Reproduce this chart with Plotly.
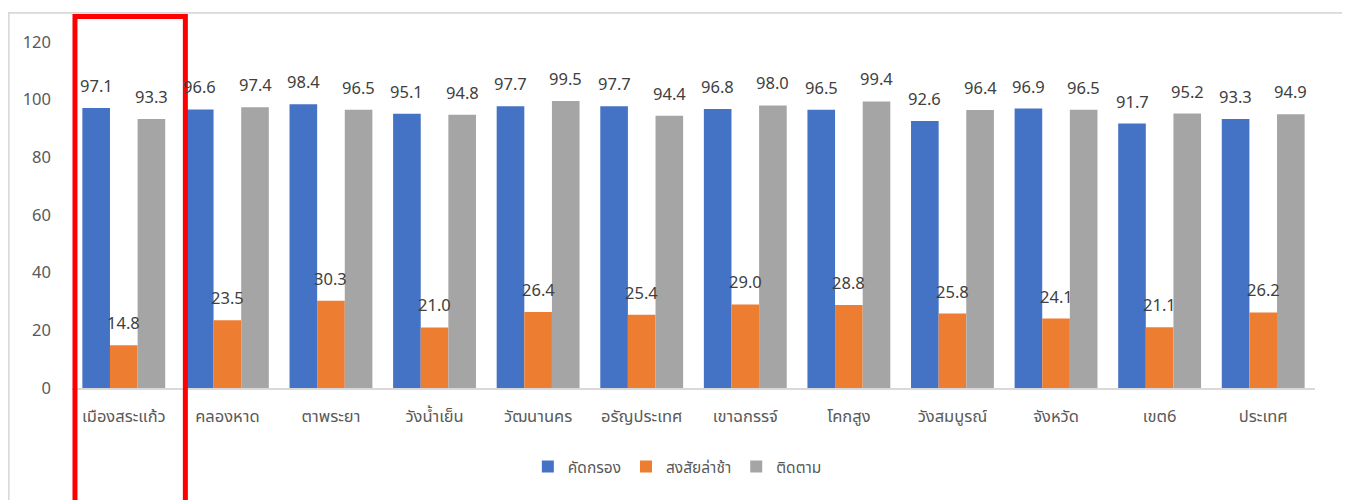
import plotly.graph_objects as go

categories = ["เมืองสระแก้ว", "คลองหาด", "ตาพระยา", "วังน้ำเย็น", "วัฒนานคร", "อรัญประเทศ",
              "เขาฉกรรจ์", "โคกสูง", "วังสมบูรณ์", "จังหวัด", "เขต6", "ประเทศ"]
screen = [97.1, 96.6, 98.4, 95.1, 97.7, 97.7, 96.8, 96.5, 92.6, 96.9, 91.7, 93.3]
suspect = [14.8, 23.5, 30.3, 21.0, 26.4, 25.4, 29.0, 28.8, 25.8, 24.1, 21.1, 26.2]
follow = [93.3, 97.4, 96.5, 94.8, 99.5, 94.4, 98.0, 99.4, 96.4, 96.5, 95.2, 94.9]
series_names = ["คัดกรอง", "สงสัยล่าช้า", "ติดตาม"]
colors = ["#4472C4", "#ED7D31", "#A5A5A5"]
y_ticks = [0, 20, 40, 60, 80, 100, 120]

FONT = "Tahoma, 'Noto Sans Thai', 'Leelawadee UI', 'DejaVu Sans', sans-serif"
W, H = 1350, 500
ML, MR, MT, MB = 64, 43, 33.5, 120
BARGAP = 0.2

fig = go.Figure()
all_vals = [screen, suspect, follow]
for name, vals, col in zip(series_names, all_vals, colors):
    fig.add_trace(go.Bar(
        x=categories, y=vals, name=name, marker_color=col, marker_line_width=0,
    ))

# data labels (Excel-style, raised above the bar end)
cat_px = (W - ML - MR) / len(categories)
bar_px = cat_px * (1 - BARGAP) / len(all_vals)
for i, vals in enumerate(all_vals):
    off = (i - (len(all_vals) - 1) / 2) * bar_px
    for c, v in zip(categories, vals):
        fig.add_annotation(x=c, y=v, xref="x", yref="y", text=f"{v:.1f}",
                           showarrow=False, yanchor="bottom", xanchor="center",
                           xshift=off, yshift=7,
                           font=dict(size=16.5, color="#404040", family=FONT))

fig.update_layout(
    width=W, height=H,
    margin=dict(l=ML, r=MR, t=MT, b=MB, autoexpand=False),
    barmode="group", bargap=BARGAP, bargroupgap=0,
    plot_bgcolor="white", paper_bgcolor="white",
    font=dict(family=FONT, size=16.5, color="#595959"),
    showlegend=True,
    legend=dict(orientation="h", x=0.487, xanchor="center", y=-0.228, yanchor="middle",
                font=dict(size=15.5, color="#595959"), traceorder="normal", itemwidth=30),
    xaxis=dict(showline=True, linecolor="#D9D9D9", linewidth=2, ticks="", automargin=False,
               tickfont=dict(size=16.5, color="#595959"), ticklabelstandoff=12),
    yaxis=dict(range=[0, 120], tickvals=y_ticks, showgrid=False, zeroline=False, automargin=False,
               showline=False, tickfont=dict(size=16.5, color="#595959"), ticklabelstandoff=20),
)

# outer chart border
fig.add_shape(type="rect", xref="paper", yref="paper",
              x0=-0.0509, x1=1.0236, y0=-0.45, y1=1.084,
              line=dict(color="#D9D9D9", width=1.8), fillcolor="rgba(0,0,0,0)", layer="below")
# red highlight box
fig.add_shape(type="rect", xref="paper", yref="paper",
              x0=0.0024, x1=0.0912, y0=-0.4, y1=1.074,
              line=dict(color="#FF0000", width=5), fillcolor="rgba(0,0,0,0)")

fig.write_html("out.html")
